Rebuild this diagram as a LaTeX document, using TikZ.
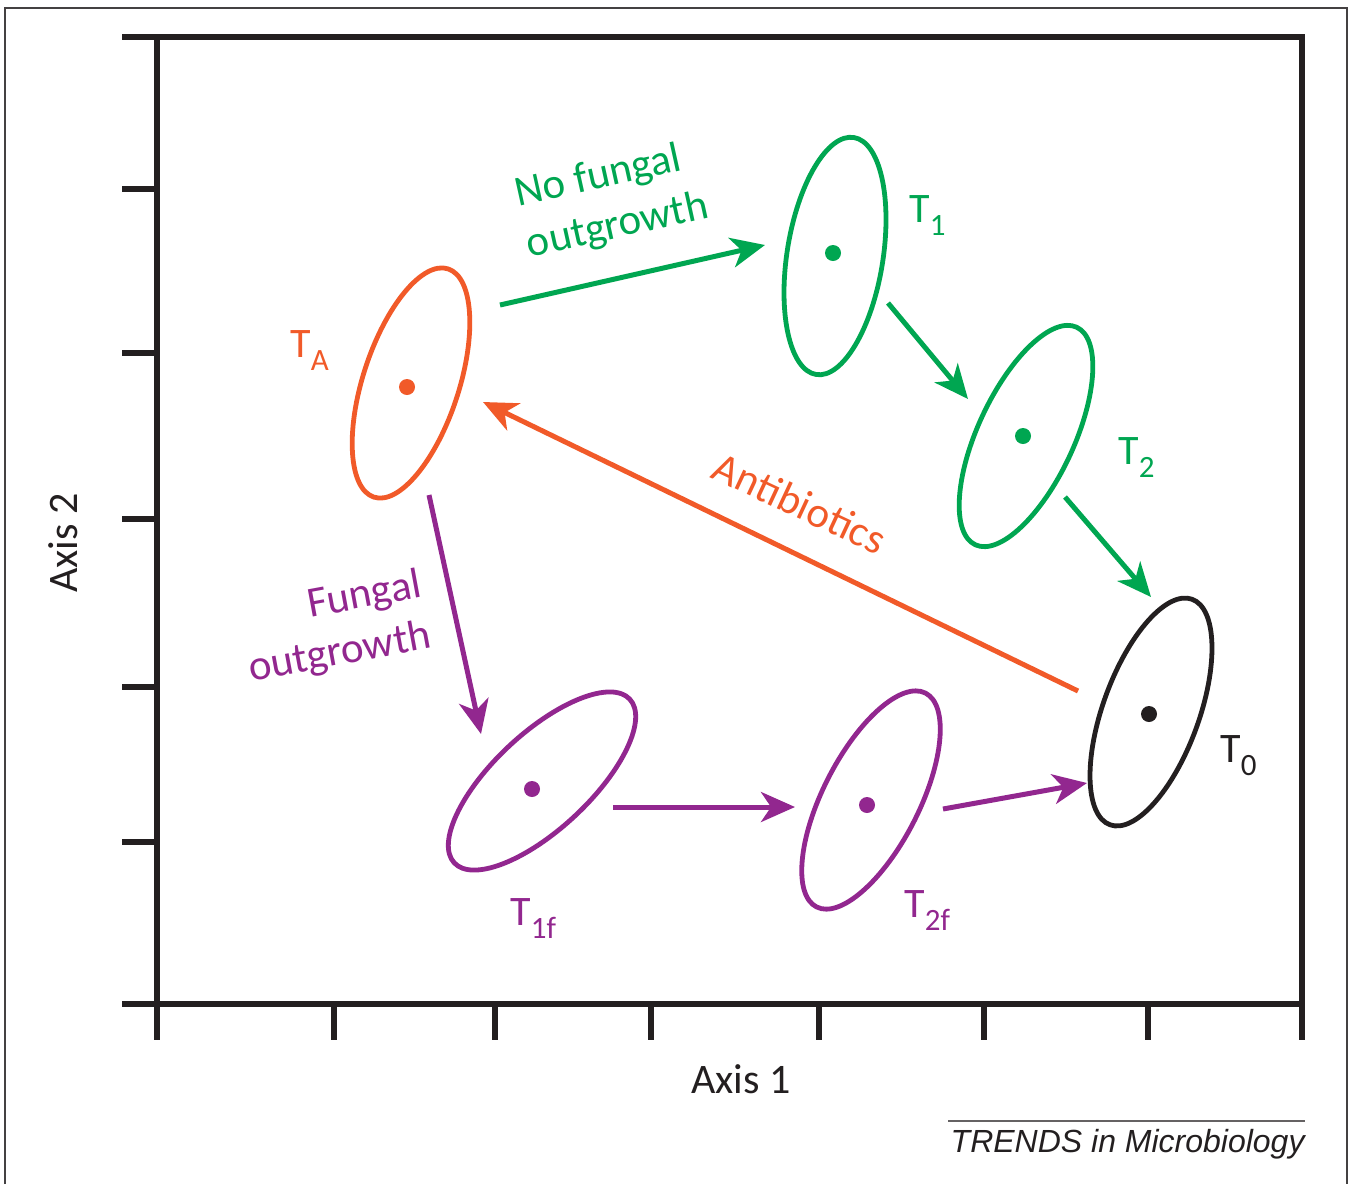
\documentclass[tikz,border=0pt]{standalone}
\usepackage{fontspec}
\setmainfont{Carlito}
\newfontfamily\trendsfont{Liberation Sans}
\usepackage{xcolor}
\usepackage{tikz}
\usetikzlibrary{arrows.meta,shapes.geometric}
\definecolor{PlotInk}{HTML}{231F20}
\definecolor{ShiftGreen}{HTML}{00A651}
\definecolor{ShiftOrange}{HTML}{F15A29}
\definecolor{ShiftPurple}{HTML}{92278F}

\newcommand{\sampleT}[1]{T\raisebox{-.32em}{\fontsize{15.5}{16}\selectfont #1}}

\begin{document}
\begin{tikzpicture}[x=.5pt,y=-.5pt]
  \path[use as bounding box] (0,0) rectangle (1353,1184);

  \tikzset{
    ordCloud/.style={
      ellipse,
      draw=#1,
      line width=2.4pt,
      minimum width=120pt,
      minimum height=48pt,
      inner sep=0pt
    },
    ordCentre/.style={
      circle,
      fill=#1,
      minimum size=8pt,
      inner sep=0pt
    },
    ordShift/.style={
      -{Stealth[length=17pt,width=15pt,inset=5pt]},
      draw=#1,
      line width=2.5pt
    },
    ordTag/.style={
      text=#1,
      font=\fontsize{21}{21}\selectfont,
      inner sep=0pt,
      anchor=base west
    },
    ordNote/.style={
      text=#1,
      font=\fontsize{21.5}{26}\selectfont,
      inner sep=0pt
    },
    ordAxis/.style={
      draw=PlotInk,
      line width=2.6pt,
      line join=miter
    }
  }

  % outer frame and the ordination box
  \draw[PlotInk!85,line width=1.4pt] (5,1184) -- (5,8) -- (1347,8) -- (1347,1184);
  \draw[ordAxis] (122,37) -- (1302,37) -- (1302,1040);
  \draw[ordAxis] (157,37) -- (157,1040);
  \draw[ordAxis] (122,1004) -- (1302,1004);
  \foreach \ty in {189,353,519,687,842}
    \draw[ordAxis] (122,\ty) -- (157,\ty);
  \foreach \tx in {334,495,651,819,984,1148}
    \draw[ordAxis] (\tx,1004) -- (\tx,1040);

  \node[font=\fontsize{21}{21}\selectfont,text=PlotInk] (axisOne) at (741,1079) {Axis 1};
  \node[font=\fontsize{21}{21}\selectfont,text=PlotInk,rotate=90] (axisTwo) at (63,543) {Axis 2};

  % time points
  \node[ordCloud=ShiftOrange,rotate=72] (TA) at (411,383) {};
  \node[ordCloud=ShiftGreen,rotate=81] (T1) at (835,256) {};
  \node[ordCloud=ShiftGreen,rotate=65] (T2) at (1026,436) {};
  \node[ordCloud=PlotInk,rotate=70] (T0) at (1151,712) {};
  \node[ordCloud=ShiftPurple,rotate=43] (T1f) at (542,781) {};
  \node[ordCloud=ShiftPurple,rotate=63] (T2f) at (871,800) {};

  \node[ordCentre=ShiftOrange] (TAc) at (407,387) {};
  \node[ordCentre=ShiftGreen] (T1c) at (833,253) {};
  \node[ordCentre=ShiftGreen] (T2c) at (1023,436) {};
  \node[ordCentre=PlotInk] (T0c) at (1149,714) {};
  \node[ordCentre=ShiftPurple] (T1fc) at (532,789) {};
  \node[ordCentre=ShiftPurple] (T2fc) at (867,805) {};

  \node[ordTag=ShiftOrange] (TAlab) at (290,357) {\sampleT{A}};
  \node[ordTag=ShiftGreen] (T1lab) at (909,222) {\sampleT{1}};
  \node[ordTag=ShiftGreen] (T2lab) at (1118,464) {\sampleT{2}};
  \node[ordTag=PlotInk] (T0lab) at (1220,762) {\sampleT{0}};
  \node[ordTag=ShiftPurple] (T1flab) at (510,925) {\sampleT{1f}};
  \node[ordTag=ShiftPurple] (T2flab) at (904,917) {\sampleT{2f}};

  % shifts between time points
  \coordinate (TAoutG) at (500,305);
  \coordinate (T1inG) at (765,245);
  \coordinate (T1outG) at (888,303);
  \coordinate (T2inG) at (968,399);
  \coordinate (T2outG) at (1065,497);
  \coordinate (T0inG) at (1151,597);
  \coordinate (T0outO) at (1078,691);
  \coordinate (TAinO) at (483,402);
  \coordinate (TAoutP) at (429,495);
  \coordinate (T1finP) at (481,734);
  \coordinate (T1foutP) at (613,807);
  \coordinate (T2finP) at (795,807);
  \coordinate (T2foutP) at (943,809);
  \coordinate (T0inP) at (1087,783);

  \draw[ordShift=ShiftGreen] (TAoutG) -- (T1inG);
  \draw[ordShift=ShiftGreen] (T1outG) -- (T2inG);
  \draw[ordShift=ShiftGreen] (T2outG) -- (T0inG);
  \draw[ordShift=ShiftOrange] (T0outO) -- (TAinO);
  \draw[ordShift=ShiftPurple] (TAoutP) -- (T1finP);
  \draw[ordShift=ShiftPurple] (T1foutP) -- (T2finP);
  \draw[ordShift=ShiftPurple] (T2foutP) -- (T0inP);

  \node[ordNote=ShiftGreen,align=left,rotate=12.5] (noFungal) at (612,201)
    {No fungal\\outgrowth};
  \node[ordNote=ShiftOrange,rotate=-25] (antibiotics) at (800,503) {Antibiotics};
  \node[ordNote=ShiftPurple,align=right,rotate=10.5] (fungal) at (335,628)
    {Fungal\\outgrowth};

  % journal mark
  \draw[PlotInk!70,line width=1pt] (948,1121) -- (1305,1121);
  \node[font=\trendsfont\itshape\fontsize{16}{16}\selectfont,text=PlotInk,
    inner sep=0pt,anchor=base east] (trends) at (1305,1152)
    {TRENDS in Microbiology};
\end{tikzpicture}
\end{document}
